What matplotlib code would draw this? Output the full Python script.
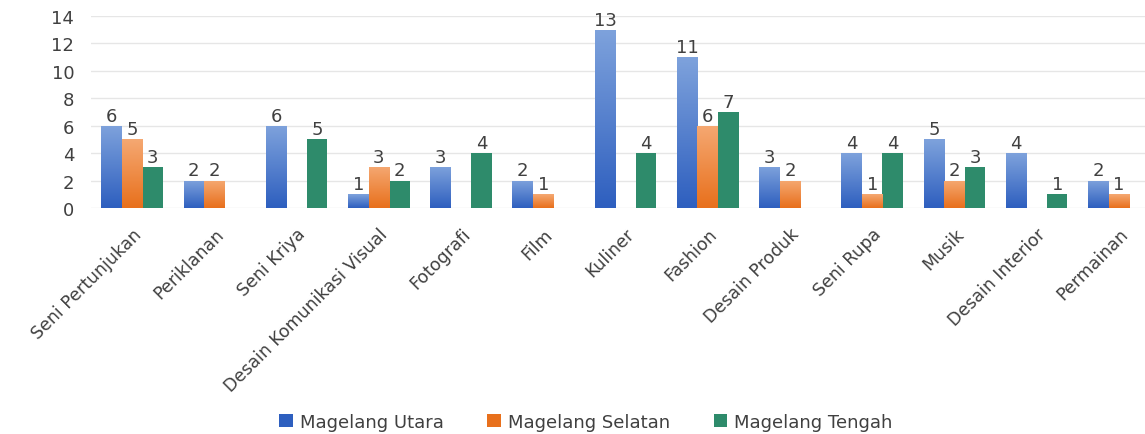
import numpy as np
import matplotlib
matplotlib.use("Agg")
import matplotlib.pyplot as plt
from matplotlib.colors import LinearSegmentedColormap
from matplotlib.patches import Patch

plt.rcParams['font.family'] = ['DejaVu Sans']

categories = ["Seni Pertunjukan", "Periklanan", "Seni Kriya", "Desain Komunikasi Visual",
              "Fotografi", "Film", "Kuliner", "Fashion", "Desain Produk", "Seni Rupa",
              "Musik", "Desain Interior", "Permainan"]
series_names = ["Magelang Utara", "Magelang Selatan", "Magelang Tengah"]
utara = [6, 2, 6, 1, 3, 2, 13, 11, 3, 4, 5, 4, 2]
selatan = [5, 2, 0, 3, 0, 1, 0, 6, 2, 1, 2, 0, 1]
tengah = [3, 0, 5, 2, 4, 0, 4, 7, 0, 4, 3, 1, 0]

# (top colour, bottom colour) -- equal means flat fill
fills = [("#7ea2dc", "#2e5fbf"), ("#f5a872", "#e8701c"), ("#2e8b6b", "#2e8b6b")]

fig = plt.figure(figsize=(11.45, 4.35), dpi=100)
ax = fig.add_axes([91 / 1145, 1 - 209 / 435, 1069 / 1145, 192 / 435])

x = np.arange(len(categories))
w = 0.25
for i, (vals, (top, bot)) in enumerate(zip([utara, selatan, tengah], fills)):
    cmap = LinearSegmentedColormap.from_list("g%d" % i, [bot, top])
    pos = x + (i - 1) * w
    for xp, v in zip(pos, vals):
        if v == 0:
            continue
        bar = ax.bar(xp, v, w, color=bot, edgecolor="none", zorder=2)[0]
        if top != bot:
            grad = np.linspace(0, 1, 100).reshape(-1, 1)
            im = ax.imshow(grad, cmap=cmap, origin="lower", aspect="auto",
                           extent=[xp - w / 2, xp + w / 2, 0, v], zorder=3)
            im.set_clip_path(bar)
        ax.text(xp, v + 0.08, str(v), ha="center", va="bottom", fontsize=13,
                color="#404040", zorder=4)

ax.set_xlim(-0.5, len(categories) - 0.5)
ax.set_ylim(0, 14)
ax.set_yticks(range(0, 15, 2))
ax.grid(axis="y", color="#e6e6e6", linewidth=1, zorder=0)
ax.set_axisbelow(True)
for s in ax.spines.values():
    s.set_visible(False)
ax.tick_params(length=0, labelsize=13, colors="#404040")
ax.tick_params(axis="y", pad=12)
ax.set_xticks(x)
ax.set_xticklabels(categories, rotation=45, ha="right", rotation_mode="anchor",
                   fontsize=12.5)
ax.tick_params(axis="x", pad=12)

handles = [Patch(facecolor=fills[i][1], edgecolor="none") for i in range(3)]
fig.legend(handles, series_names, loc="center", bbox_to_anchor=(586 / 1145, 1 - 423 / 435),
           ncol=3, frameon=False, fontsize=13, handlelength=0.75, handleheight=0.75,
           columnspacing=2.4, handletextpad=0.4, labelcolor="#404040")

fig.savefig("out.png", dpi=100)
